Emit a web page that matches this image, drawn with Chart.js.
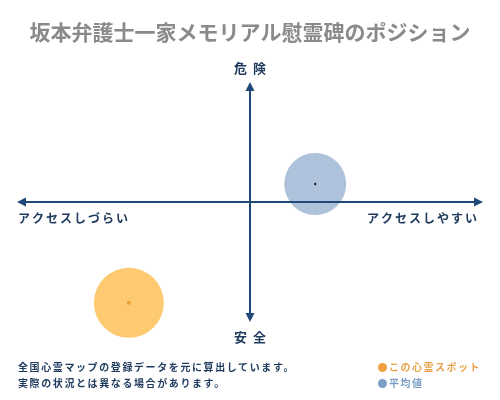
<!DOCTYPE html>
<html>
<head>
<meta charset="utf-8">
<script src="https://cdn.jsdelivr.net/npm/chart.js@4"></script>
<style>
html,body{margin:0;padding:0;background:#fff;}
#wrap{position:relative;width:500px;height:400px;overflow:hidden;font-family:"Noto Sans CJK JP","Noto Sans",sans-serif;}
canvas{position:absolute;left:0;top:0;}
.t{position:absolute;white-space:nowrap;font-weight:bold;}
#title{left:0;width:500px;top:17px;text-align:center;font-size:21px;color:#8a8a8a;line-height:28px;}
.note{left:18px;font-size:10px;color:#1e3a5c;letter-spacing:1.6px;line-height:14px;}
.leg{left:378px;font-size:10px;letter-spacing:1.5px;line-height:14px;}
.dot{display:inline-block;width:9px;height:9px;border-radius:50%;vertical-align:-1px;margin-right:2px;}
</style>
</head>
<body>
<div id="wrap">
<canvas id="c" width="500" height="400"></canvas>
<div id="title" class="t">坂本弁護士一家メモリアル慰霊碑のポジション</div>
<div class="t note" style="top:360px">全国心霊マップの登録データを元に算出しています。</div>
<div class="t note" style="top:376px">実際の状況とは異なる場合があります。</div>
<div class="t leg" style="top:360px;color:#e8a24a"><span class="dot" style="background:#f0a040"></span>この心霊スポット</div>
<div class="t leg" style="top:376px;color:#7d9ec4"><span class="dot" style="background:#7d9ec4"></span>平均値</div>
</div>
<script>
// Data
const seriesNames = ["この心霊スポット", "平均値"];
const accessValues = [-5.2, 2.8];   // x: アクセスしづらい(-) ... アクセスしやすい(+)
const dangerValues = [-8.4, 1.5];   // y: 安全(-) ... 危険(+)
const bubbleSizes = [35, 31];
const axisLabels = { top: "危険", bottom: "安全", left: "アクセスしづらい", right: "アクセスしやすい" };
const axisMin = -10, axisMax = 10;

const fills = ["rgba(253,196,98,0.9)", "rgba(160,183,213,0.85)"];
const centerColors = ["#f0a030", "#222222"];

const bubbleSets = seriesNames.map((n, i) => ({
  type: 'bubble',
  label: n,
  data: [{ x: accessValues[i], y: dangerValues[i], r: bubbleSizes[i] }],
  backgroundColor: fills[i],
  borderWidth: 0,
  order: 2
}));
const centerSets = seriesNames.map((n, i) => ({
  type: 'scatter',
  label: n + " center",
  data: [{ x: accessValues[i], y: dangerValues[i] }],
  backgroundColor: centerColors[i],
  borderWidth: 0,
  pointRadius: i === 0 ? 2 : 1.2,
  order: 1
}));

const axisPlugin = {
  id: 'quadAxes',
  afterDatasetsDraw(chart) {
    const { ctx, scales: { x, y } } = chart;
    const x0 = x.getPixelForValue(0), y0 = y.getPixelForValue(0);
    const L = x.getPixelForValue(axisMin), R = x.getPixelForValue(axisMax);
    const T = y.getPixelForValue(axisMax), B = y.getPixelForValue(axisMin);
    const col = '#1f4a78';
    ctx.save();
    ctx.strokeStyle = col; ctx.fillStyle = col; ctx.lineWidth = 2;
    ctx.beginPath(); ctx.moveTo(L + 4, y0); ctx.lineTo(R - 4, y0); ctx.stroke();
    ctx.beginPath(); ctx.moveTo(x0, T + 4); ctx.lineTo(x0, B - 4); ctx.stroke();
    const a = 9, w = 4.5;
    ctx.beginPath(); ctx.moveTo(L, y0); ctx.lineTo(L + a, y0 - w); ctx.lineTo(L + a, y0 + w); ctx.closePath(); ctx.fill();
    ctx.beginPath(); ctx.moveTo(R, y0); ctx.lineTo(R - a, y0 - w); ctx.lineTo(R - a, y0 + w); ctx.closePath(); ctx.fill();
    ctx.beginPath(); ctx.moveTo(x0, T); ctx.lineTo(x0 - w, T + a); ctx.lineTo(x0 + w, T + a); ctx.closePath(); ctx.fill();
    ctx.beginPath(); ctx.moveTo(x0, B); ctx.lineTo(x0 - w, B - a); ctx.lineTo(x0 + w, B - a); ctx.closePath(); ctx.fill();

    ctx.fillStyle = '#1e3a5c';
    ctx.font = 'bold 13px "Noto Sans CJK JP"';
    ctx.textBaseline = 'middle';
    ctx.textAlign = 'center';
    ctx.letterSpacing = '6px';
    ctx.fillText(axisLabels.top, x0 + 3, T - 14);
    ctx.fillText(axisLabels.bottom, x0 + 3, B + 15);
    ctx.font = 'bold 12px "Noto Sans CJK JP"';
    ctx.letterSpacing = '2px';
    ctx.textAlign = 'left';
    ctx.fillText(axisLabels.left, L + 1, y0 + 16);
    ctx.textAlign = 'right';
    ctx.fillText(axisLabels.right, R - 4, y0 + 16);
    ctx.restore();
  }
};

new Chart(document.getElementById('c'), {
  data: { datasets: [...centerSets, ...bubbleSets] },
  options: {
    responsive: false,
    animation: false,
    layout: { autoPadding: false, padding: { left: 17, right: 17, top: 82, bottom: 78 } },
    plugins: { legend: { display: false }, tooltip: { enabled: false }, title: { display: false } },
    scales: {
      x: { type: 'linear', min: axisMin, max: axisMax, display: false },
      y: { type: 'linear', min: axisMin, max: axisMax, display: false }
    },
    clip: false
  },
  plugins: [axisPlugin]
});
</script>
</body>
</html>
